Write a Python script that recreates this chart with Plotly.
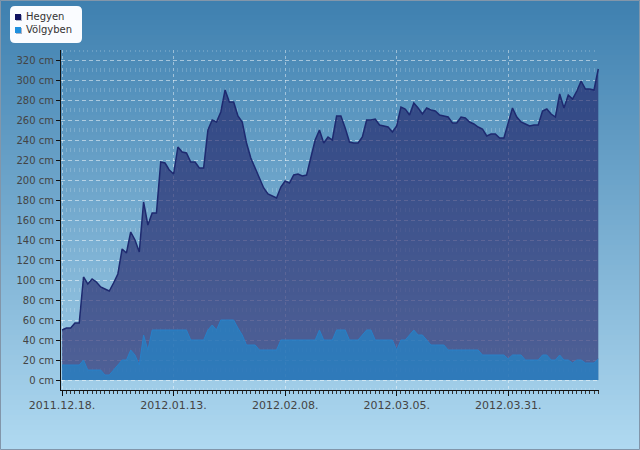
import plotly.graph_objects as go
import pandas as pd

# ---- data -------------------------------------------------------------
series_names = ["Hegyen", "Völgyben"]
start_date = "2011-12-18"
hegyen = [50, 52, 52, 57, 57, 103, 96, 101, 98, 93, 91, 89, 97, 106, 131, 127,
          148, 140, 128, 178, 155, 167, 167, 218, 217, 210, 206, 233, 228, 227,
          218, 218, 212, 212, 250, 260, 258, 268, 290, 278, 278, 264, 258, 237,
          222, 212, 202, 192, 186, 184, 182, 193, 199, 197, 205, 206, 204, 205,
          223, 240, 250, 237, 243, 240, 264, 264, 252, 238, 237, 237, 243, 260,
          260, 261, 255, 254, 253, 248, 254, 273, 271, 265, 277, 272, 266, 272,
          270, 269, 265, 264, 263, 257, 257, 263, 262, 258, 256, 253, 251, 244,
          246, 246, 242, 242, 258, 272, 263, 258, 256, 254, 255, 255, 269, 271,
          266, 263, 286, 272, 285, 281, 289, 299, 291, 291, 290, 311]
volgyben = [15, 15, 15, 15, 15, 20, 10, 10, 10, 10, 5, 5, 10, 15, 20, 20,
            30, 25, 15, 45, 30, 50, 50, 50, 50, 50, 50, 50, 50, 50,
            40, 40, 40, 40, 50, 55, 50, 60, 60, 60, 60, 52, 45, 35,
            35, 35, 30, 30, 30, 30, 30, 40, 40, 40, 40, 40, 40, 40,
            40, 40, 50, 40, 40, 40, 50, 50, 50, 40, 40, 40, 45, 50,
            50, 40, 40, 40, 40, 40, 30, 40, 40, 45, 50, 45, 45, 40,
            35, 35, 35, 35, 30, 30, 30, 30, 30, 30, 30, 30, 25, 25,
            25, 25, 25, 25, 21, 25, 25, 25, 20, 20, 20, 20, 25, 25,
            20, 20, 25, 20, 20, 17, 20, 20, 17, 17, 17, 21]
x_range = ["2011-12-17 18:00", "2012-04-21 04:00"]
y_range = [-10, 330]
tick_step_days = 26

dates = pd.date_range(start_date, periods=len(hegyen), freq="D")

# ---- geometry helpers (page px -> paper) --------------------------------
W, H = 640, 450
ML, MR, MT, MB = 61, 41, 50, 60
PW, PH = W - ML - MR, H - MT - MB


def px(x):
    return (x - ML) / PW


def py(y):
    return (H - MB - y) / PH


fig = go.Figure()
fig.add_trace(go.Scatter(
    x=dates, y=hegyen, name=series_names[0], mode="lines", fill="tozeroy",
    fillcolor="rgba(27,25,97,0.6)",
    line=dict(color="rgb(30,42,112)", width=1.5),
))
fig.add_trace(go.Scatter(
    x=dates, y=volgyben, name=series_names[1], mode="lines", fill="tozeroy",
    fillcolor="rgba(27,140,210,0.6)",
    line=dict(color="rgb(40,128,200)", width=1),
))

shapes = []
# background gradient
top = (62, 127, 175)
bot = (176, 218, 241)
n = 90
for i in range(n):
    t = (i + 0.5) / n
    c = tuple(int(round(top[k] + (bot[k] - top[k]) * t)) for k in range(3))
    y0 = i * H / n
    y1 = (i + 1) * H / n + 0.6
    shapes.append(dict(type="rect", xref="paper", yref="paper", layer="below",
                       x0=px(-2), x1=px(W + 2), y0=py(y0), y1=py(y1),
                       line=dict(width=0), fillcolor="rgb(%d,%d,%d)" % c))
# outer border
shapes.append(dict(type="rect", xref="paper", yref="paper", layer="above",
                   x0=px(0.5), x1=px(W - 0.5), y0=py(0.5), y1=py(H - 0.5),
                   line=dict(width=1, color="rgb(130,150,170)"),
                   fillcolor="rgba(0,0,0,0)"))
# legend box (rounded)
bx0, bx1, by0, by1, r = 10, 82, 6, 43, 5
path = ("M {a},{b} L {c},{b} Q {d},{b} {d},{e} L {d},{f} Q {d},{g} {c},{g} "
        "L {a},{g} Q {h},{g} {h},{f} L {h},{e} Q {h},{b} {a},{b} Z").format(
    a=px(bx0 + r), b=py(by0), c=px(bx1 - r), d=px(bx1), e=py(by0 + r),
    f=py(by1 - r), g=py(by1), h=px(bx0))
shapes.append(dict(type="path", xref="paper", yref="paper", layer="above",
                   path=path, fillcolor="rgba(250,252,255,1)",
                   line=dict(width=0)))
legend_colors = ["rgb(16,18,96)", "rgb(30,144,222)"]
legend_y = [17, 30]
annotations = []
for name, col, ly in zip(series_names, legend_colors, legend_y):
    shapes.append(dict(type="rect", xref="paper", yref="paper", layer="above",
                       x0=px(16), x1=px(22), y0=py(ly - 2), y1=py(ly + 4),
                       line=dict(width=0), fillcolor="rgba(120,130,160,0.6)"))
    shapes.append(dict(type="rect", xref="paper", yref="paper", layer="above",
                       x0=px(15), x1=px(21), y0=py(ly - 3), y1=py(ly + 3),
                       line=dict(width=0), fillcolor=col))
    annotations.append(dict(xref="paper", yref="paper", x=px(24), y=py(ly),
                            xanchor="left", yanchor="middle", showarrow=False,
                            text=name,
                            font=dict(family="DejaVu Sans", size=10,
                                      color="#333")))

fig.update_layout(
    width=W, height=H,
    margin=dict(l=ML, r=MR, t=MT, b=MB, pad=0),
    paper_bgcolor="rgb(120,172,210)",
    plot_bgcolor="rgba(0,0,0,0)",
    showlegend=False,
    shapes=shapes,
    annotations=annotations,
    xaxis=dict(
        type="date", range=x_range, tick0=start_date,
        dtick=tick_step_days * 86400000, tickformat="%Y.%m.%d.",
        ticks="outside", ticklen=5, tickcolor="#111",
        showline=True, linecolor="#111", linewidth=1,
        showgrid=True, gridcolor="rgba(255,255,255,0.45)", griddash="3px,3px",
        zeroline=False,
        tickfont=dict(family="DejaVu Sans", size=11, color="#444"),
        minor=dict(dtick=86400000, tick0=start_date, ticks="outside",
                   ticklen=3, tickcolor="#333", showgrid=True,
                   gridcolor="rgba(255,255,255,0.18)",
                   griddash="2px,16px,2px,0px"),
    ),
    yaxis=dict(
        range=y_range, tick0=0, dtick=20, ticksuffix=" cm",
        ticks="outside", ticklen=4, tickcolor="#111",
        showline=True, linecolor="#111", linewidth=1,
        showgrid=True, gridcolor="rgba(255,255,255,0.5)", griddash="4px,3px",
        zeroline=False,
        tickfont=dict(family="DejaVu Sans", size=10, color="#444"),
    ),
)

fig.write_html("out.html")
